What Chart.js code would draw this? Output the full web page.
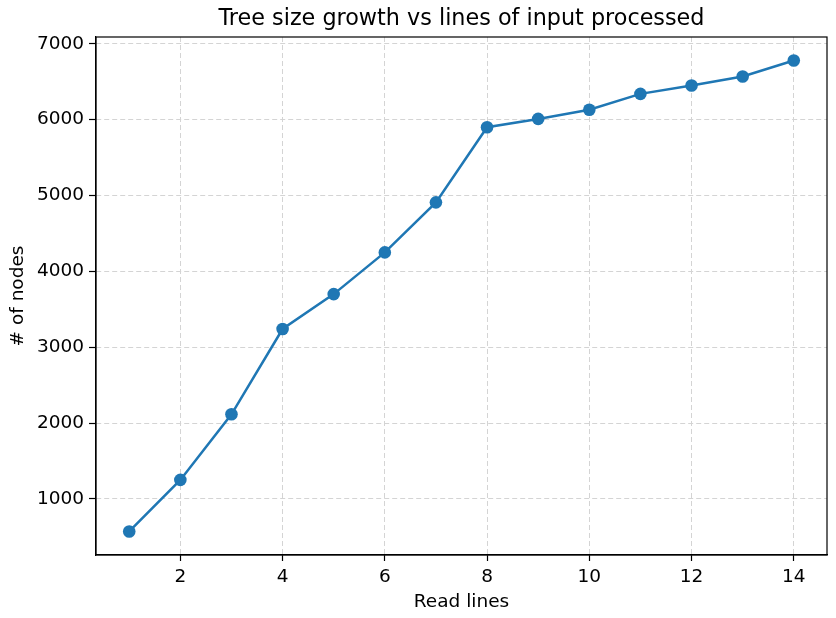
<!DOCTYPE html>
<html>
<head>
<meta charset="utf-8">
<script src="https://cdn.jsdelivr.net/npm/chart.js@4/dist/chart.umd.min.js"></script>
<style>
  html, body { margin: 0; padding: 0; background: #ffffff; }
  #wrap { width: 836px; height: 618px; }
</style>
</head>
<body>
<div id="wrap"><canvas id="c" width="836" height="618"></canvas></div>
<script>
const readLines = [1, 2, 3, 4, 5, 6, 7, 8, 9, 10, 11, 12, 13, 14];
const nodeCounts = [570, 1250, 2115, 3240, 3700, 4250, 4910, 5900, 6010, 6130, 6340, 6450, 6570, 6780];
const xTicks = [2, 4, 6, 8, 10, 12, 14];
const yTicks = [1000, 2000, 3000, 4000, 5000, 6000, 7000];
const chartTitle = 'Tree size growth vs lines of input processed';

const FONT = "'DejaVu Sans', sans-serif";

const framePlugin = {
  id: 'frame',
  afterDatasetsDraw(chart) {
    const a = chart.chartArea, ctx = chart.ctx;
    ctx.save();
    ctx.strokeStyle = '#000';
    ctx.lineWidth = 1.2;
    ctx.strokeRect(a.left, a.top, a.right - a.left, a.bottom - a.top);
    ctx.restore();
  },
  afterDraw(chart) {
    const a = chart.chartArea, ctx = chart.ctx;
    ctx.save();
    ctx.fillStyle = '#000';
    ctx.font = "22.3px " + FONT;
    ctx.textAlign = 'center';
    ctx.textBaseline = 'middle';
    ctx.fillText(chartTitle, (a.left + a.right) / 2, 19);
    ctx.restore();
  }
};

new Chart(document.getElementById('c'), {
  type: 'line',
  data: {
    datasets: [{
      data: readLines.map((x, i) => ({ x: x, y: nodeCounts[i] })),
      borderColor: '#1f77b4',
      backgroundColor: '#1f77b4',
      borderWidth: 2.5,
      pointRadius: 6.3,
      pointHoverRadius: 6.3,
      pointBorderWidth: 0,
      tension: 0
    }]
  },
  plugins: [framePlugin],
  options: {
    responsive: false,
    animation: false,
    devicePixelRatio: 1,
    layout: { padding: { left: 0, right: 9, top: 37, bottom: 0 } },
    plugins: {
      legend: { display: false },
      tooltip: { enabled: false },
      title: { display: false }
    },
    scales: {
      x: {
        type: 'linear',
        min: 0.35,
        max: 14.65,
        afterBuildTicks: (s) => { s.ticks = xTicks.map(v => ({ value: v })); },
        afterFit: (s) => { s.height = 63; },
        ticks: { color: '#000', font: { family: FONT, size: 18.5 }, padding: 5, maxRotation: 0, callback: (v) => String(v) },
        grid: { color: '#d4d4d4', lineWidth: 1, tickColor: '#000', tickLength: 6, tickWidth: 1.2, tickBorderDash: [] },
        border: { color: '#000', width: 1.2, dash: [5, 3] },
        title: { display: true, text: 'Read lines', color: '#000', font: { family: FONT, size: 18.5 }, padding: { top: 2, bottom: 5 } }
      },
      y: {
        type: 'linear',
        min: 260,
        max: 7090,
        afterBuildTicks: (s) => { s.ticks = yTicks.map(v => ({ value: v })); },
        afterFit: (s) => { s.width = 96; },
        ticks: { color: '#000', font: { family: FONT, size: 18.5 }, padding: 5, callback: (v) => String(v) },
        grid: { color: '#d4d4d4', lineWidth: 1, tickColor: '#000', tickLength: 7, tickWidth: 1.2, tickBorderDash: [] },
        border: { color: '#000', width: 1.2, dash: [5, 3] },
        title: { display: true, text: '# of nodes', color: '#000', font: { family: FONT, size: 18.5 }, padding: { top: 7, bottom: 4 } }
      }
    }
  }
});
</script>
</body>
</html>
